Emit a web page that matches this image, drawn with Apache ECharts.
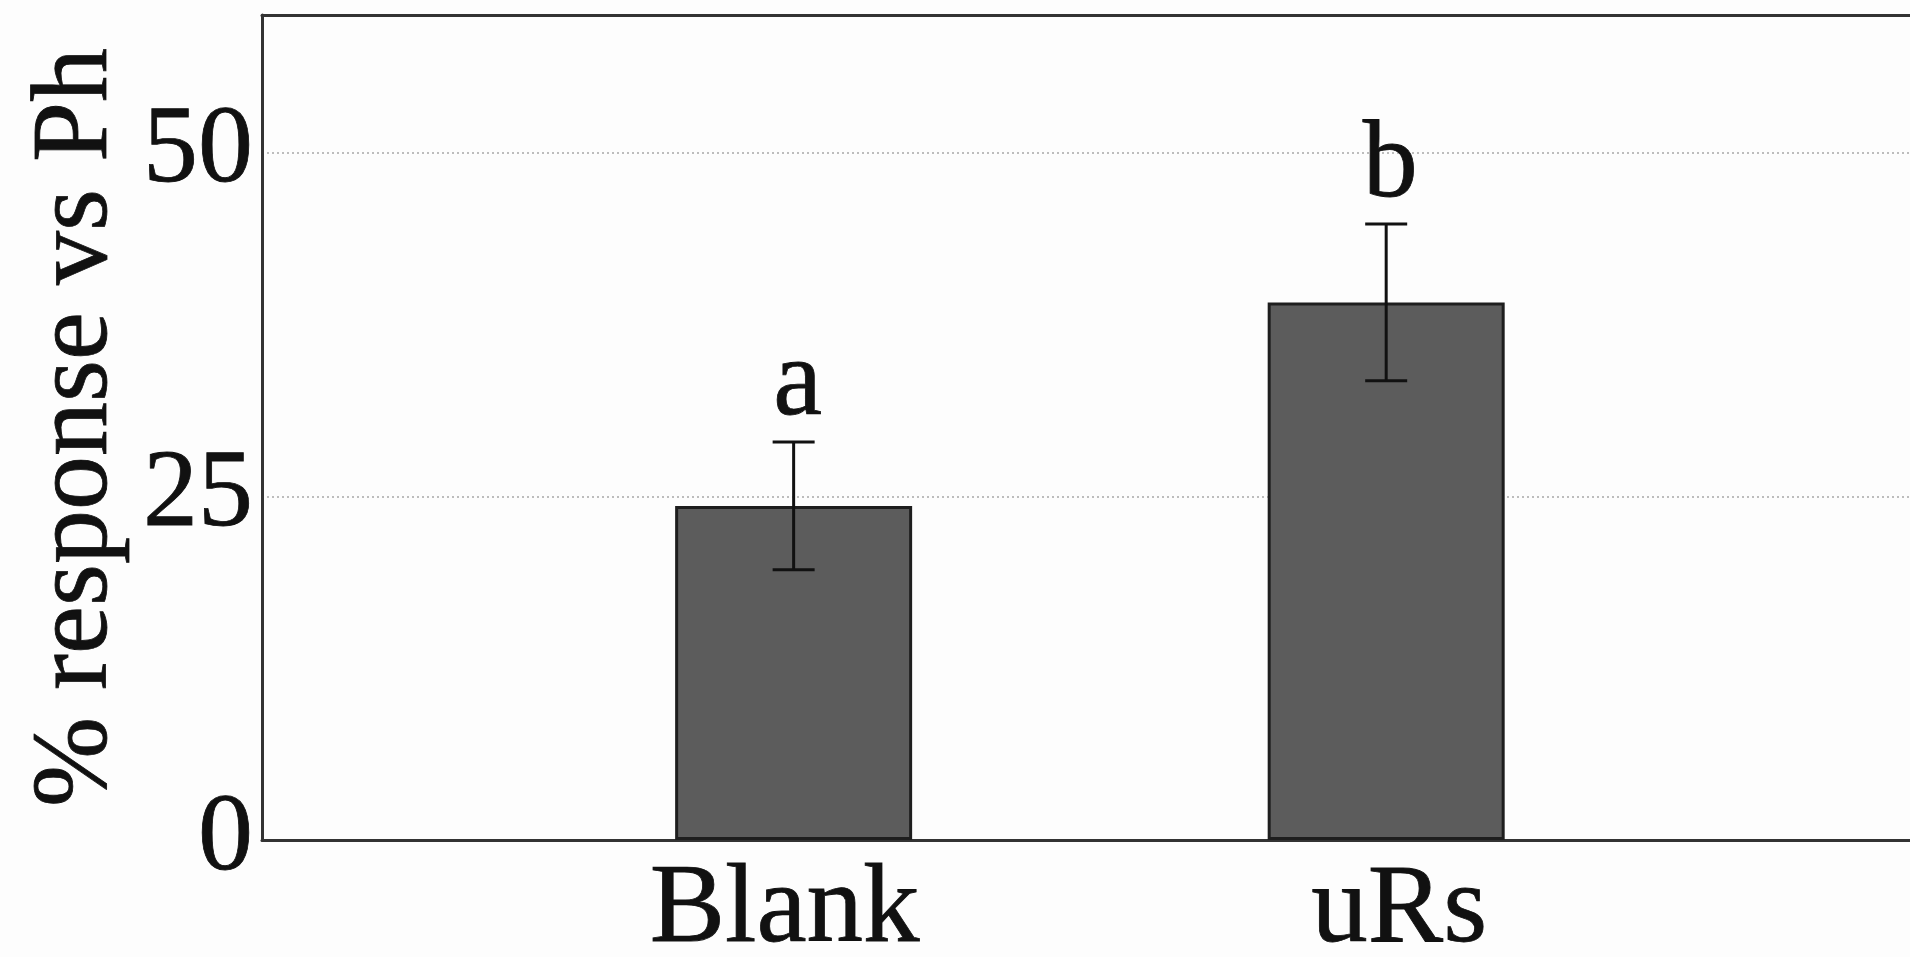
<!DOCTYPE html>
<html>
<head>
<meta charset="utf-8">
<script src="https://cdn.jsdelivr.net/npm/echarts@6/dist/echarts.min.js"></script>
<style>
html,body{margin:0;padding:0;background:#fdfdfd;}
#chart{width:1910px;height:957px;}
</style>
</head>
<body>
<div id="chart"></div>
<script>
// ---- data ----
const categories = ['Blank', 'uRs'];
const categoryPositions = [1, 2];
const means = [24.3, 39.1];
const errors = [4.65, 5.7];
const letters = ['a', 'b'];
const yTicks = [0, 25, 50];
const yTitle = '% response vs Ph';

const FONT = '"Liberation Serif", "Times New Roman", serif';
const INK = '#111';
const STROKE = 0.8;
const catFont = {fontFamily: FONT, fontSize: 113, color: INK, textBorderColor: INK, textBorderWidth: STROKE};

const barData = categoryPositions.map((x, i) => [x, means[i]]);
const errData = categoryPositions.map((x, i) => [x, means[i] - errors[i], means[i] + errors[i], i]);

const chart = echarts.init(document.getElementById('chart'), null, {renderer: 'canvas'});
const xMin = 0.1028, xMax = 2.884;

chart.setOption({
  backgroundColor: '#fdfdfd',
  animation: false,
  grid: {left: 262, right: 0, top: 15, bottom: 117, containLabel: false, outerBoundsMode: 'none'},
  xAxis: [{
    type: 'value', position: 'bottom', min: xMin, max: xMax,
    axisLine: {show: true, onZero: false, lineStyle: {color: '#333', width: 3}},
    axisTick: {show: false},
    splitLine: {show: false},
    axisLabel: Object.assign({
      show: true,
      customValues: categoryPositions,
      formatter: v => {
        const i = categoryPositions.indexOf(Math.round(v));
        return i < 0 ? '' : '{c' + i + '|' + categories[i] + '}';
      },
      margin: 15,
      rich: {
        c0: Object.assign({padding: [0, 18, 0, 0]}, catFont),
        c1: Object.assign({padding: [0, 0, 0, 26]}, catFont)
      }
    }, catFont)
  }, {
    type: 'value', position: 'top', min: xMin, max: xMax,
    axisLine: {show: true, onZero: false, lineStyle: {color: '#333', width: 3}},
    axisTick: {show: false}, axisLabel: {show: false}, splitLine: {show: false}
  }],
  yAxis: {
    type: 'value', min: 0, max: 60, interval: 25,
    name: yTitle, nameLocation: 'middle', nameGap: 95, nameRotate: 90,
    nameTextStyle: {fontFamily: FONT, fontSize: 108, color: INK,
      textBorderColor: INK, textBorderWidth: STROKE},
    axisLine: {show: true, lineStyle: {color: '#333', width: 3}},
    axisTick: {show: false},
    axisLabel: {
      fontFamily: FONT, fontSize: 110, color: INK, margin: 9,
      textBorderColor: INK, textBorderWidth: STROKE,
      padding: [18, 0, 0, 0],
      showMaxLabel: false,
      formatter: v => (yTicks.indexOf(v) >= 0 ? String(v) : '')
    },
    splitLine: {show: true, lineStyle: {color: '#bdbdbd', width: 2, type: [2, 3]}}
  },
  series: [{
    type: 'bar',
    data: barData,
    barWidth: 237,
    itemStyle: {color: '#5c5c5c', borderColor: '#1e1e1e', borderWidth: 3},
    z: 2
  }, {
    type: 'custom',
    data: errData,
    z: 3,
    renderItem: function (params, api) {
      const x = api.value(0);
      const lo = api.coord([x, api.value(1)]);
      const hi = api.coord([x, api.value(2)]);
      const idx = api.value(3);
      const cap = 21;
      const style = {stroke: INK, lineWidth: 3};
      return {
        type: 'group',
        children: [
          {type: 'line', shape: {x1: lo[0], y1: lo[1], x2: hi[0], y2: hi[1]}, style: style},
          {type: 'line', shape: {x1: lo[0] - cap, y1: lo[1], x2: lo[0] + cap, y2: lo[1]}, style: style},
          {type: 'line', shape: {x1: hi[0] - cap, y1: hi[1], x2: hi[0] + cap, y2: hi[1]}, style: style},
          {type: 'text', style: {
            text: letters[idx], x: hi[0] + 4, y: hi[1] - 2,
            fill: INK, font: '110px ' + FONT,
            stroke: INK, lineWidth: STROKE,
            textAlign: 'center', textVerticalAlign: 'bottom'
          }}
        ]
      };
    }
  }]
});
</script>
</body>
</html>
